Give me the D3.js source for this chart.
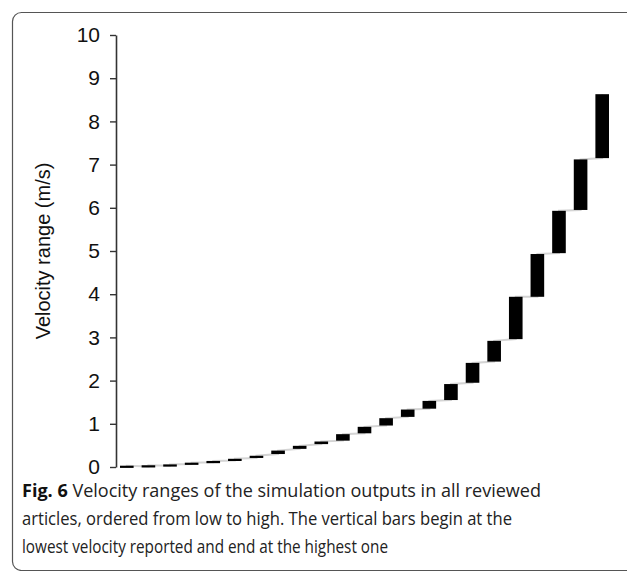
<!DOCTYPE html>
<html>
<head>
<meta charset="utf-8">
<script src="https://cdn.jsdelivr.net/npm/d3@7"></script>
<style>
  body { margin: 0; background: #fff; }
  svg { display: block; }
</style>
</head>
<body>
<script>
var width = 627,
    height = 571;

var margin = {top: 35, right: 14, bottom: 104, left: 116};

// one entry per reviewed article, sorted low to high
var articles = d3.range(1, 24)
var lowValues  = [0.00, 0.01, 0.03, 0.07, 0.11, 0.15, 0.21, 0.30, 0.42, 0.53, 0.61, 0.78,
                  0.96, 1.16, 1.35, 1.55, 1.95, 2.44, 2.96, 3.94, 4.95, 5.95, 7.15]
var highValues = [0.03, 0.04, 0.06, 0.10, 0.14, 0.19, 0.26, 0.38, 0.49, 0.59, 0.76, 0.93,
                  1.13, 1.33, 1.53, 1.92, 2.41, 2.92, 3.94, 4.93, 5.93, 7.12, 8.63]
var yTicks = d3.range(0, 11)

var yTitle = "Velocity range (m/s)"
var captionBold = "Fig. 6"
var captionLines = [
    " Velocity ranges of the simulation outputs in all reviewed",
    "articles, ordered from low to high. The vertical bars begin at the",
    "lowest velocity reported and end at the highest one"
]

var svg = d3.select("body").append("svg")
    .attr("width", width)
    .attr("height", height);

// rounded frame of the figure box
svg.append("rect")
    .attr("x", 12.5)
    .attr("y", 12.5)
    .attr("width", 660)
    .attr("height", 558)
    .attr("rx", 9)
    .attr("fill", "none")
    .attr("stroke", "#555")
    .attr("stroke-width", 1.2);

var xScale = d3.scaleBand()
    .domain(articles)
    .range([margin.left, width - margin.right])
    .paddingInner(0.37)
    .paddingOuter(0.185);

var yScale = d3.scaleLinear()
    .domain([0, 10])
    .range([height - margin.bottom, margin.top]);

var data = articles.map(function(d, i) {
    return {id: d, low: lowValues[i], high: highValues[i]}
})

// faint connecting line: top of one bar to bottom of the next
var linePts = []
data.forEach(function(d) {
    var cx = xScale(d.id) + xScale.bandwidth() / 2
    linePts.push([cx, yScale(d.low)])
    linePts.push([cx, yScale(d.high)])
})

svg.append("path")
    .datum(linePts)
    .attr("fill", "none")
    .attr("stroke", "#d4d4d4")
    .attr("stroke-width", 2)
    .attr("d", d3.line());

svg.selectAll(".bar")
    .data(data)
    .enter().append("rect")
    .attr("class", "bar")
    .attr("x", function(d) { return xScale(d.id) })
    .attr("width", xScale.bandwidth())
    .attr("y", function(d) { return yScale(d.high) })
    .attr("height", function(d) { return Math.max(yScale(d.low) - yScale(d.high), 2.2) })
    .attr("fill", "#000");

var axisY = d3.axisLeft(yScale)
    .tickValues(yTicks)
    .tickSize(6)
    .tickSizeOuter(0)
    .tickPadding(10);

var gy = svg.append("g")
    .attr("transform", "translate(" + margin.left + ",0)")
    .call(axisY);

gy.select(".domain")
    .attr("stroke", "#333")
    .attr("stroke-width", 1.6);
gy.selectAll(".tick line")
    .attr("stroke", "#333")
    .attr("stroke-width", 1.4);
gy.selectAll(".tick text")
    .attr("font-family", "Liberation Sans, Arial, sans-serif")
    .attr("font-size", 21)
    .attr("fill", "#111");

svg.append("text")
    .attr("transform", "translate(50," + yScale(5) + ") rotate(-90)")
    .attr("text-anchor", "middle")
    .attr("font-family", "Liberation Sans, Arial, sans-serif")
    .attr("font-size", 20)
    .attr("fill", "#111")
    .text(yTitle);

// caption
var capFont = "Open Sans, Noto Sans, sans-serif"
var capWidths = [519, 490, 366]
var capY = [497, 525, 553]

captionLines.forEach(function(line, i) {
    var t = svg.append("text")
        .attr("x", 22)
        .attr("y", capY[i])
        .attr("font-family", capFont)
        .attr("font-size", 18)
        .attr("fill", "#222")
        .attr("textLength", capWidths[i])
        .attr("lengthAdjust", "spacingAndGlyphs");
    if (i == 0) {
        t.append("tspan").attr("font-weight", "bold").attr("fill", "#111").text(captionBold)
    }
    t.append("tspan").text(line)
})
</script>
</body>
</html>
